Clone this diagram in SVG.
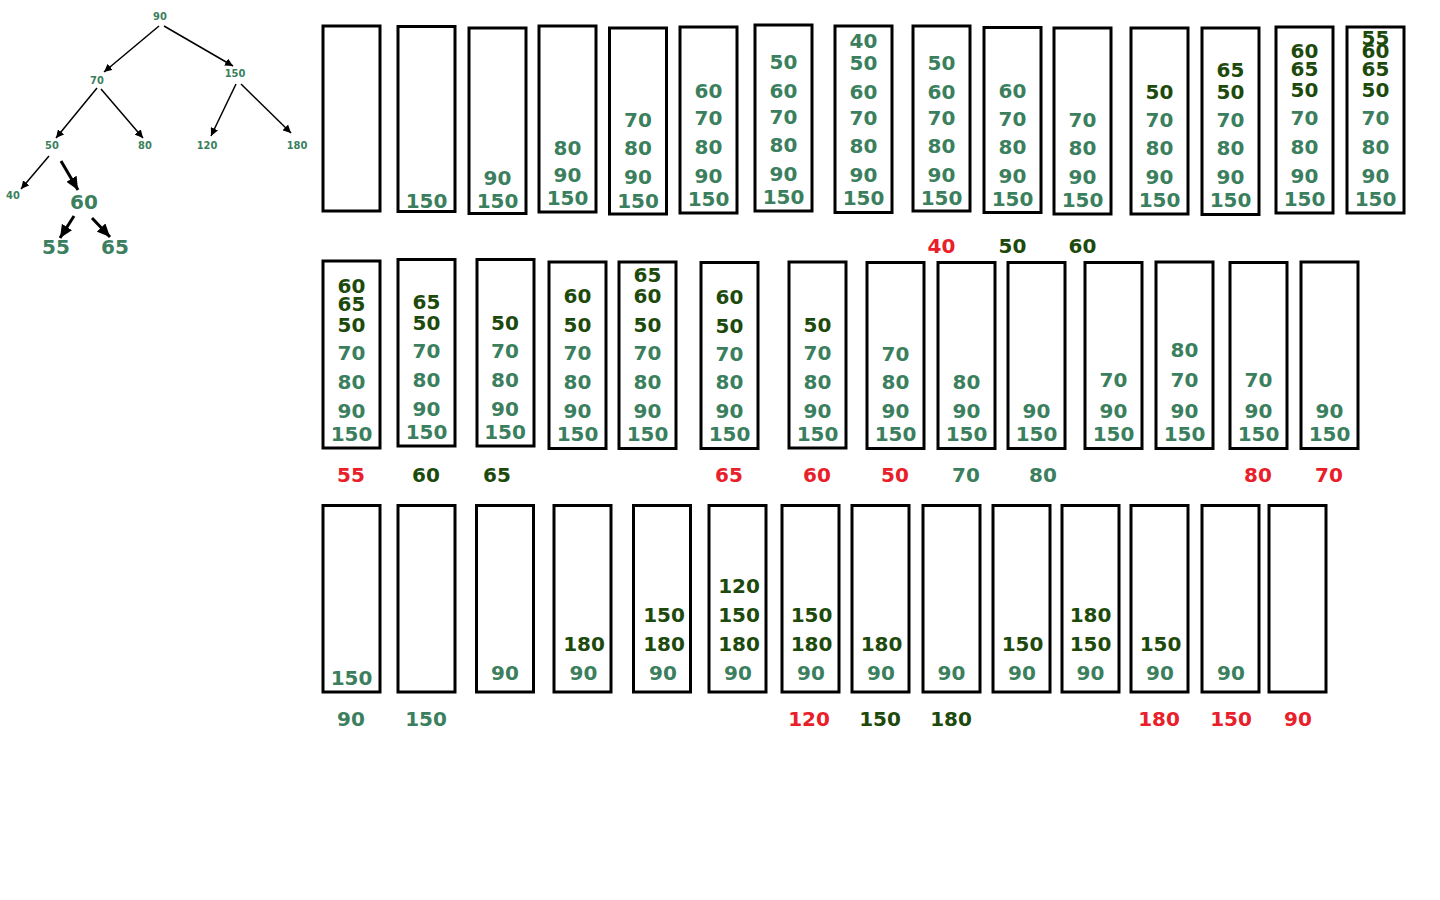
<svg xmlns="http://www.w3.org/2000/svg" width="1440" height="900" viewBox="0 0 1440 900">
<style>
text{font-family:"DejaVu Sans","Liberation Sans",sans-serif;font-weight:bold;font-size:20px;text-anchor:middle}
.l{fill:#3b7f5e}
.d{fill:#1d4a0c}
.r{fill:#e8202a}
.s{font-size:11px;font-stretch:condensed;fill:#3b7f5e}
.box{fill:#fff;stroke:#000;stroke-width:3}
.e{stroke:#000;stroke-width:1.5;fill:none}
.E{stroke:#000;stroke-width:3;fill:none}
</style>
<defs>
<marker id="ah" markerUnits="userSpaceOnUse" markerWidth="9" markerHeight="8" refX="8" refY="4" orient="auto"><path d="M0,0 L8,4 L0,8 z" fill="#000"/></marker>
<marker id="AH" markerUnits="userSpaceOnUse" markerWidth="14" markerHeight="12" refX="13" refY="6" orient="auto"><path d="M0,0 L13,6 L0,12 z" fill="#000"/></marker>
</defs>
<rect width="1440" height="900" fill="#fff"/>
<g id="tree-edges">
<line class="e" x1="159" y1="26" x2="104" y2="72" marker-end="url(#ah)"/>
<line class="e" x1="164" y1="26" x2="233" y2="66" marker-end="url(#ah)"/>
<line class="e" x1="97" y1="88" x2="56" y2="138" marker-end="url(#ah)"/>
<line class="e" x1="101" y1="89" x2="143" y2="138" marker-end="url(#ah)"/>
<line class="e" x1="236" y1="84" x2="211" y2="136" marker-end="url(#ah)"/>
<line class="e" x1="241" y1="84" x2="291" y2="133" marker-end="url(#ah)"/>
<line class="e" x1="49" y1="156" x2="21" y2="189" marker-end="url(#ah)"/>
<line class="E" x1="61" y1="161" x2="78" y2="190" marker-end="url(#AH)"/>
<line class="E" x1="74" y1="216" x2="60" y2="238" marker-end="url(#AH)"/>
<line class="E" x1="92" y1="218" x2="110" y2="237" marker-end="url(#AH)"/>
</g>
<g id="tree-nodes">
<text class="s" x="160" y="20">90</text>
<text class="s" x="97" y="84">70</text>
<text class="s" x="235" y="77">150</text>
<text class="s" x="52" y="149">50</text>
<text class="s" x="145" y="149">80</text>
<text class="s" x="207" y="149">120</text>
<text class="s" x="297" y="149">180</text>
<text class="s" x="13" y="199">40</text>
<text class="l" x="84" y="209">60</text>
<text class="l" x="56" y="254">55</text>
<text class="l" x="115" y="254">65</text>
</g>
<!-- Row 1 -->
<g id="r1b1"><rect class="box" x="323" y="26" width="57" height="185"/></g>
<g id="r1b2"><rect class="box" x="398" y="26.5" width="57" height="185"/><text class="l" x="426.5" y="208">150</text></g>
<g id="r1b3"><rect class="box" x="469" y="28" width="57" height="185.5"/><text class="l" x="497.5" y="185">90</text><text class="l" x="497.5" y="208">150</text></g>
<g id="r1b4"><rect class="box" x="539" y="26" width="57" height="186"/><text class="l" x="567.5" y="155">80</text><text class="l" x="567.5" y="182">90</text><text class="l" x="567.5" y="205">150</text></g>
<g id="r1b5"><rect class="box" x="609.5" y="28" width="57" height="186"/><text class="l" x="638" y="127">70</text><text class="l" x="638" y="155">80</text><text class="l" x="638" y="184">90</text><text class="l" x="638" y="208">150</text></g>
<g id="r1b6"><rect class="box" x="680" y="27" width="57" height="186"/><text class="l" x="708.5" y="98">60</text><text class="l" x="708.5" y="125">70</text><text class="l" x="708.5" y="154">80</text><text class="l" x="708.5" y="183">90</text><text class="l" x="708.5" y="206">150</text></g>
<g id="r1b7"><rect class="box" x="755" y="25" width="57" height="186"/><text class="l" x="783.5" y="69">50</text><text class="l" x="783.5" y="98">60</text><text class="l" x="783.5" y="124">70</text><text class="l" x="783.5" y="152">80</text><text class="l" x="783.5" y="181">90</text><text class="l" x="783.5" y="204">150</text></g>
<g id="r1b8"><rect class="box" x="835" y="26" width="57" height="186.5"/><text class="l" x="863.5" y="48">40</text><text class="l" x="863.5" y="70">50</text><text class="l" x="863.5" y="99">60</text><text class="l" x="863.5" y="125">70</text><text class="l" x="863.5" y="153">80</text><text class="l" x="863.5" y="182">90</text><text class="l" x="863.5" y="205">150</text></g>
<g id="r1b9"><rect class="box" x="913" y="26" width="57" height="185"/><text class="l" x="941.5" y="70">50</text><text class="l" x="941.5" y="99">60</text><text class="l" x="941.5" y="125">70</text><text class="l" x="941.5" y="153">80</text><text class="l" x="941.5" y="182">90</text><text class="l" x="941.5" y="205">150</text></g>
<g id="r1b10"><rect class="box" x="984" y="27.5" width="57" height="185"/><text class="l" x="1012.5" y="98">60</text><text class="l" x="1012.5" y="126">70</text><text class="l" x="1012.5" y="154">80</text><text class="l" x="1012.5" y="183">90</text><text class="l" x="1012.5" y="206">150</text></g>
<g id="r1b11"><rect class="box" x="1054" y="28" width="57" height="186"/><text class="l" x="1082.5" y="127">70</text><text class="l" x="1082.5" y="155">80</text><text class="l" x="1082.5" y="184">90</text><text class="l" x="1082.5" y="207">150</text></g>
<g id="r1b12"><rect class="box" x="1131" y="28" width="57" height="186"/><text class="d" x="1159.5" y="99">50</text><text class="l" x="1159.5" y="127">70</text><text class="l" x="1159.5" y="155">80</text><text class="l" x="1159.5" y="184">90</text><text class="l" x="1159.5" y="207">150</text></g>
<g id="r1b13"><rect class="box" x="1202" y="28" width="57" height="186.5"/><text class="d" x="1230.5" y="77">65</text><text class="d" x="1230.5" y="99">50</text><text class="l" x="1230.5" y="127">70</text><text class="l" x="1230.5" y="155">80</text><text class="l" x="1230.5" y="184">90</text><text class="l" x="1230.5" y="207">150</text></g>
<g id="r1b14"><rect class="box" x="1276" y="27" width="57" height="186"/><text class="d" x="1304.5" y="58">60</text><text class="d" x="1304.5" y="76">65</text><text class="d" x="1304.5" y="97">50</text><text class="l" x="1304.5" y="125">70</text><text class="l" x="1304.5" y="154">80</text><text class="l" x="1304.5" y="183">90</text><text class="l" x="1304.5" y="206">150</text></g>
<g id="r1b15"><rect class="box" x="1347" y="27" width="57" height="186"/><text class="d" x="1375.5" y="45">55</text><text class="d" x="1375.5" y="58">60</text><text class="d" x="1375.5" y="76">65</text><text class="d" x="1375.5" y="97">50</text><text class="l" x="1375.5" y="125">70</text><text class="l" x="1375.5" y="154">80</text><text class="l" x="1375.5" y="183">90</text><text class="l" x="1375.5" y="206">150</text></g>
<g id="r1-labels"><text class="r" x="941.5" y="253">40</text><text class="d" x="1012.5" y="253">50</text><text class="d" x="1082.5" y="253">60</text></g>
<!-- Row 2 -->
<g id="r2b1"><rect class="box" x="323" y="261" width="57" height="187"/><text class="d" x="351.5" y="293">60</text><text class="d" x="351.5" y="311">65</text><text class="d" x="351.5" y="332">50</text><text class="l" x="351.5" y="360">70</text><text class="l" x="351.5" y="389">80</text><text class="l" x="351.5" y="418">90</text><text class="l" x="351.5" y="441">150</text></g>
<g id="r2b2"><rect class="box" x="398" y="259.5" width="57" height="186.5"/><text class="d" x="426.5" y="309">65</text><text class="d" x="426.5" y="330">50</text><text class="l" x="426.5" y="358">70</text><text class="l" x="426.5" y="387">80</text><text class="l" x="426.5" y="416">90</text><text class="l" x="426.5" y="439">150</text></g>
<g id="r2b3"><rect class="box" x="477" y="259.5" width="57" height="186.5"/><text class="d" x="505" y="330">50</text><text class="l" x="505" y="358">70</text><text class="l" x="505" y="387">80</text><text class="l" x="505" y="416">90</text><text class="l" x="505" y="439">150</text></g>
<g id="r2b4"><rect class="box" x="549" y="262" width="57" height="186.5"/><text class="d" x="577.5" y="303">60</text><text class="d" x="577.5" y="332">50</text><text class="l" x="577.5" y="360">70</text><text class="l" x="577.5" y="389">80</text><text class="l" x="577.5" y="418">90</text><text class="l" x="577.5" y="441">150</text></g>
<g id="r2b5"><rect class="box" x="619" y="262" width="57" height="186.5"/><text class="d" x="647.5" y="282">65</text><text class="d" x="647.5" y="303">60</text><text class="d" x="647.5" y="332">50</text><text class="l" x="647.5" y="360">70</text><text class="l" x="647.5" y="389">80</text><text class="l" x="647.5" y="418">90</text><text class="l" x="647.5" y="441">150</text></g>
<g id="r2b6"><rect class="box" x="701" y="262.5" width="57" height="186"/><text class="d" x="729.5" y="304">60</text><text class="d" x="729.5" y="333">50</text><text class="l" x="729.5" y="361">70</text><text class="l" x="729.5" y="389">80</text><text class="l" x="729.5" y="418">90</text><text class="l" x="729.5" y="441">150</text></g>
<g id="r2b7"><rect class="box" x="789" y="262" width="57" height="186"/><text class="d" x="817.5" y="332">50</text><text class="l" x="817.5" y="360">70</text><text class="l" x="817.5" y="389">80</text><text class="l" x="817.5" y="418">90</text><text class="l" x="817.5" y="441">150</text></g>
<g id="r2b8"><rect class="box" x="867" y="262.5" width="57" height="186"/><text class="l" x="895.5" y="361">70</text><text class="l" x="895.5" y="389">80</text><text class="l" x="895.5" y="418">90</text><text class="l" x="895.5" y="441">150</text></g>
<g id="r2b9"><rect class="box" x="938" y="262.5" width="57" height="186"/><text class="l" x="966.5" y="389">80</text><text class="l" x="966.5" y="418">90</text><text class="l" x="966.5" y="441">150</text></g>
<g id="r2b10"><rect class="box" x="1008" y="262.5" width="57" height="186"/><text class="l" x="1036.5" y="418">90</text><text class="l" x="1036.5" y="441">150</text></g>
<g id="r2b11"><rect class="box" x="1085" y="262.5" width="57" height="186"/><text class="l" x="1113.5" y="387">70</text><text class="l" x="1113.5" y="418">90</text><text class="l" x="1113.5" y="441">150</text></g>
<g id="r2b12"><rect class="box" x="1156" y="262" width="57" height="186.5"/><text class="l" x="1184.5" y="357">80</text><text class="l" x="1184.5" y="387">70</text><text class="l" x="1184.5" y="418">90</text><text class="l" x="1184.5" y="441">150</text></g>
<g id="r2b13"><rect class="box" x="1230" y="262.5" width="57" height="186"/><text class="l" x="1258.5" y="387">70</text><text class="l" x="1258.5" y="418">90</text><text class="l" x="1258.5" y="441">150</text></g>
<g id="r2b14"><rect class="box" x="1301" y="262" width="57" height="186.5"/><text class="l" x="1329.5" y="418">90</text><text class="l" x="1329.5" y="441">150</text></g>
<g id="r2-labels">
<text class="r" x="351" y="482">55</text><text class="d" x="426" y="482">60</text><text class="d" x="497" y="482">65</text>
<text class="r" x="729" y="482">65</text><text class="r" x="817" y="482">60</text><text class="r" x="895" y="482">50</text>
<text class="l" x="966" y="482">70</text><text class="l" x="1043" y="482">80</text>
<text class="r" x="1258" y="482">80</text><text class="r" x="1329" y="482">70</text>
</g>
<!-- Row 3 -->
<g id="r3b1"><rect class="box" x="323" y="505.5" width="57" height="186.5"/><text class="l" x="351.5" y="685">150</text></g>
<g id="r3b2"><rect class="box" x="398" y="505.5" width="57" height="186.5"/></g>
<g id="r3b3"><rect class="box" x="476.5" y="505.5" width="57" height="186.5"/><text class="l" x="505" y="680">90</text></g>
<g id="r3b4"><rect class="box" x="554" y="505.5" width="57" height="186.5"/><text class="d" x="584" y="651">180</text><text class="l" x="583.5" y="680">90</text></g>
<g id="r3b5"><rect class="box" x="633.5" y="505.5" width="57" height="186.5"/><text class="d" x="664" y="622">150</text><text class="d" x="664" y="651">180</text><text class="l" x="663" y="680">90</text></g>
<g id="r3b6"><rect class="box" x="709" y="505.5" width="57" height="186.5"/><text class="d" x="739" y="593">120</text><text class="d" x="739" y="622">150</text><text class="d" x="739" y="651">180</text><text class="l" x="738" y="680">90</text></g>
<g id="r3b7"><rect class="box" x="782" y="505.5" width="57" height="186.5"/><text class="d" x="811.5" y="622">150</text><text class="d" x="811.5" y="651">180</text><text class="l" x="811" y="680">90</text></g>
<g id="r3b8"><rect class="box" x="852" y="505.5" width="57" height="186.5"/><text class="d" x="881.5" y="651">180</text><text class="l" x="881" y="680">90</text></g>
<g id="r3b9"><rect class="box" x="923" y="505.5" width="57" height="186.5"/><text class="l" x="951.5" y="680">90</text></g>
<g id="r3b10"><rect class="box" x="993" y="505.5" width="57" height="186.5"/><text class="d" x="1022.5" y="651">150</text><text class="l" x="1022" y="680">90</text></g>
<g id="r3b11"><rect class="box" x="1062" y="505.5" width="57" height="186.5"/><text class="d" x="1090.5" y="622">180</text><text class="d" x="1090.5" y="651">150</text><text class="l" x="1090.5" y="680">90</text></g>
<g id="r3b12"><rect class="box" x="1131" y="505.5" width="57" height="186.5"/><text class="d" x="1160.5" y="651">150</text><text class="l" x="1160" y="680">90</text></g>
<g id="r3b13"><rect class="box" x="1202" y="505.5" width="57" height="186.5"/><text class="l" x="1231" y="680">90</text></g>
<g id="r3b14"><rect class="box" x="1269" y="505.5" width="57" height="186.5"/></g>
<g id="r3-labels">
<text class="l" x="351" y="726">90</text><text class="l" x="426" y="726">150</text>
<text class="r" x="809" y="726">120</text><text class="d" x="880" y="726">150</text><text class="d" x="951" y="726">180</text>
<text class="r" x="1159" y="726">180</text><text class="r" x="1231" y="726">150</text><text class="r" x="1298" y="726">90</text>
</g>
</svg>
